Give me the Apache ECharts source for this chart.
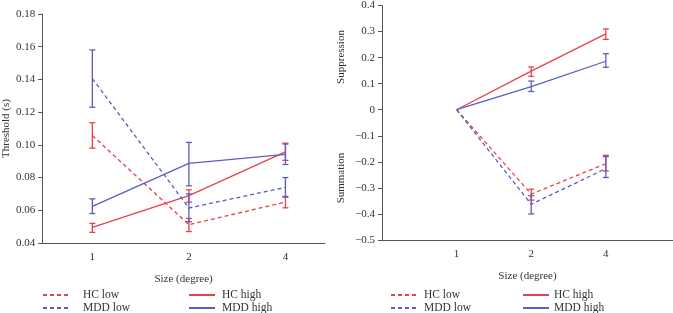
<!DOCTYPE html>
<html>
<head>
<meta charset="utf-8">
<script src="https://cdn.jsdelivr.net/npm/echarts@6/dist/echarts.min.js"></script>
<style>
  html, body { margin: 0; padding: 0; background: #fff; }
  #chart { width: 673px; height: 313px; }
</style>
</head>
<body>
<div id="chart"></div>
<script>
// x categories (size in degree)
const sizes = ['1', '2', '4'];

// left panel: threshold (s)
const thrHcLow   = [0.1057, 0.0512, 0.0650];
const thrHcLowLo = [0.0980, 0.0470, 0.0615];
const thrHcLowHi = [0.1135, 0.0550, 0.0685];
const thrHcHigh   = [0.0496, 0.0690, 0.0957];
const thrHcHighLo = [0.0465, 0.0650, 0.0905];
const thrHcHighHi = [0.0520, 0.0725, 0.1010];
const thrMddLow   = [0.1405, 0.0614, 0.0740];
const thrMddLowLo = [0.1230, 0.0530, 0.0680];
const thrMddLowHi = [0.1580, 0.0700, 0.0800];
const thrMddHigh   = [0.0624, 0.0887, 0.0942];
const thrMddHighLo = [0.0580, 0.0750, 0.0880];
const thrMddHighHi = [0.0670, 0.1015, 0.1005];

// right panel: suppression / summation index
const idxHcLow   = [0, -0.324, -0.207];
const idxHcLowLo = [0, -0.347, -0.235];
const idxHcLowHi = [0, -0.305, -0.175];
const idxHcHigh   = [0, 0.148, 0.291];
const idxHcHighLo = [0, 0.128, 0.270];
const idxHcHighHi = [0, 0.164, 0.310];
const idxMddLow   = [0, -0.363, -0.226];
const idxMddLowLo = [0, -0.400, -0.260];
const idxMddLowHi = [0, -0.330, -0.180];
const idxMddHigh   = [0, 0.089, 0.186];
const idxMddHighLo = [0, 0.070, 0.163];
const idxMddHighHi = [0, 0.110, 0.215];

const RED = '#e5424a';
const BLUE = '#5a5ec2';
const FONT = 'Liberation Serif';
const TXT = '#333';

const pts = vals => vals.map((v, i) => [i, v]);

function lineSeries(name, vals, color, dashed, axis) {
  return {
    type: 'line', name, data: pts(vals),
    xAxisIndex: axis, yAxisIndex: axis,
    symbol: 'none', silent: true,
    lineStyle: { color, width: 1.3, type: dashed ? [4, 3] : 'solid' },
    itemStyle: { color },
    z: 3
  };
}

function errSeries(name, lo, hi, color, axis) {
  const data = lo.map((l, i) => [i, l, hi[i]]).filter(d => d[1] !== d[2]);
  return {
    type: 'custom', name, data,
    xAxisIndex: axis, yAxisIndex: axis,
    silent: true,
    renderItem(params, api) {
      const a = api.coord([api.value(0), api.value(1)]);
      const b = api.coord([api.value(0), api.value(2)]);
      const w = 3;
      const st = { stroke: color, lineWidth: 1.3 };
      return {
        type: 'group', children: [
          { type: 'line', shape: { x1: a[0], y1: a[1], x2: b[0], y2: b[1] }, style: st },
          { type: 'line', shape: { x1: a[0] - w, y1: a[1], x2: a[0] + w, y2: a[1] }, style: st },
          { type: 'line', shape: { x1: b[0] - w, y1: b[1], x2: b[0] + w, y2: b[1] }, style: st }
        ]
      };
    },
    z: 4
  };
}

function xAxisCfg(grid, min, max) {
  return {
    type: 'value', gridIndex: grid, min, max,
    name: 'Size (degree)', nameLocation: 'middle', nameGap: 31,
    nameTextStyle: { fontFamily: FONT, fontSize: 11, color: TXT },
    axisLine: { onZero: false, lineStyle: { color: '#555' } },
    axisTick: { show: false },
    splitLine: { show: false },
    axisLabel: {
      customValues: [0, 1, 2],
      formatter: v => sizes[Math.round(v)],
      fontFamily: FONT, fontSize: 11, color: TXT, margin: 9
    }
  };
}

const yLabel = { fontFamily: FONT, fontSize: 11, color: TXT, margin: 7 };

function legendCfg(left, names, pad) {
  return {
    left, top: 284, height: 40,
    orient: 'vertical', itemWidth: 26, itemHeight: 8, itemGap: 1,
    data: names,
    itemStyle: { opacity: 0 },
    textStyle: { fontFamily: FONT, fontSize: 11.5, color: TXT, lineHeight: 12,
                 padding: [0, 0, 0, pad] }
  };
}

const chart = echarts.init(document.getElementById('chart'));

chart.setOption({
  animation: false,
  grid: [
    { left: 42, top: 14, width: 283, height: 229 },
    { left: 382, top: 5, width: 291, height: 235 }
  ],
  xAxis: [xAxisCfg(0, -0.52, 2.41), xAxisCfg(1, -1.0, 2.9)],
  yAxis: [
    {
      type: 'value', gridIndex: 0, min: 0.04, max: 0.18, interval: 0.02,
      name: 'Threshold (s)', nameLocation: 'middle', nameGap: 28,
      nameTextStyle: { fontFamily: FONT, fontSize: 11, color: TXT },
      axisLine: { show: true, onZero: false, lineStyle: { color: '#555' } },
      axisTick: { show: true, length: 4, lineStyle: { color: '#555' } },
      splitLine: { show: false },
      axisLabel: Object.assign({ formatter: v => v.toFixed(2) }, yLabel)
    },
    {
      type: 'value', gridIndex: 1, min: -0.5, max: 0.4, interval: 0.1,
      axisLine: { show: true, onZero: false, lineStyle: { color: '#555' } },
      axisTick: { show: true, length: 4, lineStyle: { color: '#555' } },
      splitLine: { show: false },
      axisLabel: Object.assign({
        formatter: v => {
          const r = Math.round(v * 10) / 10;
          if (r === 0) return '0';
          return (r < 0 ? '\u2212' : '') + Math.abs(r).toFixed(1);
        }
      }, yLabel)
    }
  ],
  legend: [
    legendCfg(37, ['HC low', 'MDD low'], 9),
    legendCfg(183, ['HC high', 'MDD high'], 2),
    legendCfg(385, ['HC low', 'MDD low'], 2),
    legendCfg(517, ['HC high', 'MDD high'], 0)
  ],
  graphic: [
    {
      type: 'text', x: 341, y: 57, rotation: Math.PI / 2,
      style: { text: 'Suppression', fontFamily: FONT, fontSize: 11, fill: TXT,
               textAlign: 'center', textVerticalAlign: 'middle' }
    },
    {
      type: 'text', x: 341, y: 178, rotation: Math.PI / 2,
      style: { text: 'Summation', fontFamily: FONT, fontSize: 11, fill: TXT,
               textAlign: 'center', textVerticalAlign: 'middle' }
    }
  ],
  series: [
    lineSeries('HC low', thrHcLow, RED, true, 0),
    lineSeries('HC high', thrHcHigh, RED, false, 0),
    lineSeries('MDD low', thrMddLow, BLUE, true, 0),
    lineSeries('MDD high', thrMddHigh, BLUE, false, 0),
    errSeries('HC low', thrHcLowLo, thrHcLowHi, RED, 0),
    errSeries('HC high', thrHcHighLo, thrHcHighHi, RED, 0),
    errSeries('MDD low', thrMddLowLo, thrMddLowHi, BLUE, 0),
    errSeries('MDD high', thrMddHighLo, thrMddHighHi, BLUE, 0),
    lineSeries('HC low', idxHcLow, RED, true, 1),
    lineSeries('HC high', idxHcHigh, RED, false, 1),
    lineSeries('MDD low', idxMddLow, BLUE, true, 1),
    lineSeries('MDD high', idxMddHigh, BLUE, false, 1),
    errSeries('HC low', idxHcLowLo, idxHcLowHi, RED, 1),
    errSeries('HC high', idxHcHighLo, idxHcHighHi, RED, 1),
    errSeries('MDD low', idxMddLowLo, idxMddLowHi, BLUE, 1),
    errSeries('MDD high', idxMddHighLo, idxMddHighHi, BLUE, 1)
  ]
});
</script>
</body>
</html>
